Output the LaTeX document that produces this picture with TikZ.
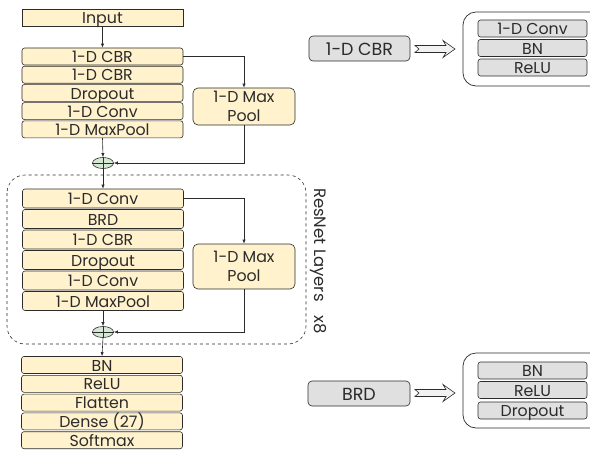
\documentclass[tikz,border=0pt]{standalone}
\usepackage{fontspec}
\setmainfont{Poppins}
\usetikzlibrary{arrows.meta,shapes.geometric}
\definecolor{ylw}{HTML}{FFF2CC}
\definecolor{gry}{HTML}{E0E0E0}
\definecolor{grn}{HTML}{D5E8D4}
\definecolor{ink}{HTML}{2B2B2B}
\tikzset{
  lay/.style={draw=ink,fill=ylw,rounded corners=2.5pt,minimum width=161pt,minimum height=17pt,inner sep=0pt,font=\fontsize{15.8}{16}\selectfont,text=ink,line width=0.6pt,text height=12.3pt,text depth=0pt},
  tall/.style={lay,minimum height=19pt},
  pool/.style={lay,minimum width=102pt,align=center,rounded corners=5pt,font=\fontsize{15.8}{19}\selectfont,text height=,text depth=},
  gbox/.style={lay,fill=gry},
  plus/.style={ellipse,draw=ink,fill=grn,minimum width=21pt,minimum height=11pt,inner sep=0pt,line width=0.6pt},
  con/.style={draw=ink,line width=0.6pt,-{Latex[length=4pt,width=3.2pt]}},
  cont/.style={draw=ink,line width=0.7pt,rounded corners=13pt},
  fat/.style={draw=ink,fill=gray!10,line width=0.6pt}
}
\begin{document}
\begin{tikzpicture}[x=1pt,y=-1pt]
\useasboundingbox (0,0) rectangle (590,451);
\clip (0,0) rectangle (590,451);
% top block
\node[lay,rounded corners=0pt] (in) at (102.5,17.5) {Input};
\node[lay] (a1) at (102.5,56.5) {1-D CBR};
\node[lay] (a2) at (102.5,74.7) {1-D CBR};
\node[lay] (a3) at (102.5,92.9) {Dropout};
\node[lay] (a4) at (102.5,111.1) {1-D Conv};
\node[lay] (a5) at (102.5,129.3) {1-D MaxPool};
\node[pool,minimum height=37pt] (pa) at (244,106.5) {1-D Max\\Pool};
\node[plus] (p1) at (103,163) {};
\draw[ink,line width=0.5pt] (p1.north)--(p1.south) (p1.west)--(p1.east);
\draw[con] (in.south) -- (a1.north);
\draw[con] (a1.east) -| (pa.north);
\draw[con] (a5.south) -- (p1.north);
\draw[con] (pa.south) |- (p1.east);
% resnet block
\draw[cont,dashed,line width=0.6pt,rounded corners=18pt] (7,175) rectangle (306,344);
\node[rotate=-90,font=\fontsize{16.5}{18}\selectfont,text=ink] (rl) at (318,261) {ResNet Layers\hspace{14pt}x8};
\node[tall] (b1) at (103,198.5) {1-D Conv};
\node[tall] (b2) at (103,219) {BRD};
\node[tall] (b3) at (103,239.5) {1-D CBR};
\node[tall] (b4) at (103,260) {Dropout};
\node[tall] (b5) at (103,280.5) {1-D Conv};
\node[tall] (b6) at (103,301) {1-D MaxPool};
\node[pool,minimum height=45pt] (pb) at (244,266.5) {1-D Max\\Pool};
\node[plus] (p2) at (103,332) {};
\draw[ink,line width=0.5pt] (p2.north)--(p2.south) (p2.west)--(p2.east);
\draw[con] (p1.south) -- (b1.north);
\draw[con] (b1.east) -| (pb.north);
\draw[con] (b6.south) -- (p2.north);
\draw[con] (pb.south) |- (p2.east);
% bottom block
\node[lay] (c1) at (102,365) {BN};
\node[lay] (c2) at (102,383.8) {ReLU};
\node[lay] (c3) at (102,402.6) {Flatten};
\node[lay] (c4) at (102,421.4) {Dense (27)};
\node[lay] (c5) at (102,440.2) {Softmax};
\draw[con] (p2.south) -- (c1.north);
% right: CBR legend
\node[gbox,minimum width=101pt,minimum height=25pt,rounded corners=4pt,font=\fontsize{17.5}{18}\selectfont,text height=13.6pt] (cbr) at (359.5,48.5) {1-D CBR};
\draw[fat] (415,45.5) -- (446,45.5) -- (443,40.5) -- (455,49) -- (443,57.5) -- (446,52.5) -- (415,52.5) -- (419,49) -- cycle;
\draw[cont] (463,12) rectangle (610,86);
\node[gbox,minimum width=109pt] (d1) at (532.5,28.5) {1-D Conv};
\node[gbox,minimum width=109pt] (d2) at (532.5,48) {BN};
\node[gbox,minimum width=109pt] (d3) at (532.5,67.5) {ReLU};
% right: BRD legend
\node[gbox,minimum width=102pt,minimum height=25pt,rounded corners=4pt,font=\fontsize{17.5}{18}\selectfont,text height=13.6pt] (brd) at (359,393.5) {BRD};
\draw[fat] (415,389.5) -- (446,389.5) -- (443,384.5) -- (455,393) -- (443,401.5) -- (446,396.5) -- (415,396.5) -- (419,393) -- cycle;
\draw[cont] (463,353) rectangle (610,428);
\node[gbox,minimum width=109pt] (e1) at (532.5,370.5) {BN};
\node[gbox,minimum width=109pt] (e2) at (532.5,390) {ReLU};
\node[gbox,minimum width=109pt] (e3) at (532.5,410.5) {Dropout};
\end{tikzpicture}
\end{document}
